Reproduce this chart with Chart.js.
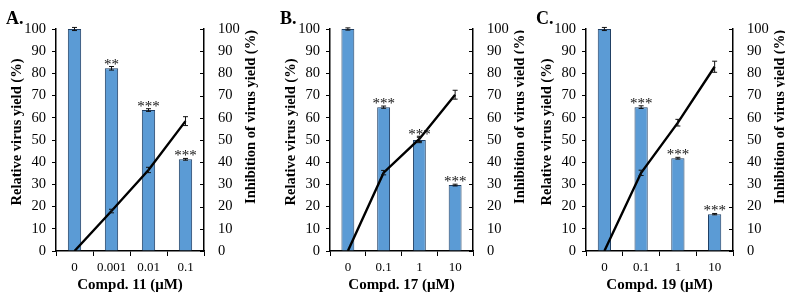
<!DOCTYPE html>
<html>
<head>
<meta charset="utf-8">
<script src="https://cdn.jsdelivr.net/npm/chart.js@4"></script>
<style>
  html, body { margin: 0; padding: 0; background: #fff; }
  #wrap { position: relative; width: 785px; height: 300px; overflow: hidden; background:#fff; }
  canvas { position: absolute; top: 0; }
</style>
</head>
<body>
<div id="wrap">
  <canvas id="cA" width="262" height="300" style="left:0px"></canvas>
  <canvas id="cB" width="262" height="300" style="left:262px"></canvas>
  <canvas id="cC" width="261" height="300" style="left:524px"></canvas>
</div>
<script>
// ---- data ----
const categoriesA = ['0', '0.001', '0.01', '0.1'];
const categoriesB = ['0', '0.1', '1', '10'];
const categoriesC = ['0', '0.1', '1', '10'];

const yieldA = [100, 82.3, 63.5, 41.3];
const yieldErrA = [0.7, 0.8, 0.6, 0.4];
const inhibA = [0, 18, 36.5, 58.5];
const inhibErrA = [0, 0.8, 1.2, 2];
const sigA = ['', '**', '***', '***'];

const yieldB = [100, 64.8, 50, 29.7];
const yieldErrB = [0.5, 0.5, 1.2, 0.4];
const inhibB = [0, 35.3, 50.5, 70.4];
const inhibErrB = [0, 1, 1.2, 2];
const sigB = ['', '***', '***', '***'];

const yieldC = [100, 64.8, 41.8, 16.6];
const yieldErrC = [0.7, 0.6, 0.4, 0.3];
const inhibC = [0, 35.2, 57.8, 83];
const inhibErrC = [0, 1.2, 1.5, 2.5];
const sigC = ['', '***', '***', '***'];

const yTickValues = [0, 10, 20, 30, 40, 50, 60, 70, 80, 90, 100];
const panelLabels = ['A.', 'B.', 'C.'];
const xTitles = ['Compd. 11 (μM)', 'Compd. 17 (μM)', 'Compd. 19 (μM)'];
const leftTitle = 'Relative virus yield (%)';
const rightTitle = 'Inhibition of virus yield (%)';

// ---- styling ----
const FONT = '"Liberation Serif", "Times New Roman", serif';
const BAR_FILL = '#5b9bd5';
const BAR_EDGE = '#1f3e63';

const decorPlugin = {
  id: 'decor',
  afterDatasetsDraw(chart, args, opts) {
    const ctx = chart.ctx;
    const x = chart.scales.x, y = chart.scales.y, y1 = chart.scales.y1;
    ctx.save();
    // error bars
    chart.data.datasets.forEach((ds, di) => {
      const sc = ds.yAxisID === 'y1' ? y1 : y;
      ds.err.forEach((e, i) => {
        if (!e) return;
        const cx = x.getPixelForValue(i);
        const yt = sc.getPixelForValue(ds.data[i] + e);
        const yb = sc.getPixelForValue(ds.data[i] - e);
        ctx.strokeStyle = '#111';
        ctx.lineWidth = 1;
        ctx.beginPath();
        ctx.moveTo(cx, yt); ctx.lineTo(cx, yb);
        ctx.moveTo(cx - 2.5, yt); ctx.lineTo(cx + 2.5, yt);
        ctx.moveTo(cx - 2.5, yb); ctx.lineTo(cx + 2.5, yb);
        ctx.stroke();
      });
    });
    // significance marks
    const bar = chart.data.datasets.find(d => d.type === 'bar');
    ctx.fillStyle = '#111';
    ctx.font = '15px ' + FONT;
    ctx.textAlign = 'center';
    ctx.textBaseline = 'alphabetic';
    opts.sig.forEach((s, i) => {
      if (!s) return;
      const cx = x.getPixelForValue(i);
      const yt = y.getPixelForValue(bar.data[i] + bar.err[i]);
      ctx.fillText(s, cx, yt + 2);
    });
    ctx.restore();
  },
  afterDraw(chart, args, opts) {
    const ctx = chart.ctx;
    const a = chart.chartArea;
    const y1 = chart.scales.y1;
    ctx.save();
    // inward ticks on right axis
    ctx.strokeStyle = '#000';
    ctx.lineWidth = 1;
    ctx.beginPath();
    y1.ticks.forEach(t => {
      const py = Math.round(y1.getPixelForValue(t.value)) + 0.5;
      ctx.moveTo(a.right - 4, py); ctx.lineTo(a.right, py);
    });
    ctx.stroke();
    ctx.fillStyle = '#000';
    // left title
    ctx.font = 'bold 14.5px ' + FONT;
    ctx.textAlign = 'center';
    ctx.textBaseline = 'middle';
    ctx.save();
    ctx.translate(a.left - 39, 132);
    ctx.rotate(-Math.PI / 2);
    ctx.fillText(leftTitle, 0, 0);
    ctx.restore();
    // right title
    ctx.save();
    ctx.translate(a.right + 47, 117);
    ctx.rotate(-Math.PI / 2);
    ctx.fillText(rightTitle, 0, 0);
    ctx.restore();
    // x title
    ctx.font = 'bold 15px ' + FONT;
    ctx.fillText(opts.xTitle, (a.left + a.right) / 2, 285);
    // panel label
    ctx.font = 'bold 18px ' + FONT;
    ctx.textAlign = 'left';
    ctx.textBaseline = 'alphabetic';
    ctx.fillText(opts.label, a.left - 50, 24);
    ctx.restore();
  }
};

function makeChart(id, cats, yv, ye, iv, ie, sig, leftW, rightW, label, xTitle) {
  const canvas = document.getElementById(id);
  return new Chart(canvas, {
    data: {
      labels: cats,
      datasets: [
        {
          type: 'line', data: iv, err: ie, yAxisID: 'y1', order: 0,
          borderColor: '#000', borderWidth: 2.4, pointRadius: 0, tension: 0, fill: false
        },
        {
          type: 'bar', data: yv, err: ye, yAxisID: 'y', order: 1,
          backgroundColor: BAR_FILL, borderColor: BAR_EDGE, borderWidth: 1,
          categoryPercentage: 1, barPercentage: 0.36
        }
      ]
    },
    options: {
      responsive: false,
      animation: false,
      devicePixelRatio: 1,
      layout: { padding: { top: 29, left: 0, right: 0, bottom: 0 } },
      plugins: {
        legend: { display: false },
        tooltip: { enabled: false },
        decor: { sig: sig, label: label, xTitle: xTitle }
      },
      scales: {
        x: {
          type: 'category', offset: true,
          grid: { display: true, drawOnChartArea: false, offset: true, tickLength: 5, color: '#000', lineWidth: 1 },
          border: { display: true, color: '#000', width: 1.5 },
          ticks: { color: '#000', font: { family: FONT, size: 13 }, padding: 4, maxRotation: 0, autoSkip: false },
          afterFit(s) { s.height = 49; }
        },
        y: {
          position: 'left', min: 0, max: 100,
          afterBuildTicks(s) { s.ticks = yTickValues.map(v => ({ value: v })); },
          grid: { display: true, drawOnChartArea: false, tickLength: 4, color: '#000', lineWidth: 1 },
          border: { display: true, color: '#000', width: 1.5 },
          ticks: { color: '#000', font: { family: FONT, size: 14.5 }, padding: 6 },
          afterFit(s) { s.width = leftW; }
        },
        y1: {
          position: 'right', min: 0, max: 100,
          afterBuildTicks(s) { s.ticks = yTickValues.map(v => ({ value: v })); },
          grid: { display: true, drawOnChartArea: false, drawTicks: false, color: '#000' },
          border: { display: true, color: '#000', width: 1.5 },
          ticks: { color: '#000', font: { family: FONT, size: 14.5 }, padding: 14 },
          afterFit(s) { s.width = rightW; }
        }
      }
    },
    plugins: [decorPlugin]
  });
}

makeChart('cA', categoriesA, yieldA, yieldErrA, inhibA, inhibErrA, sigA, 56, 58, panelLabels[0], xTitles[0]);
makeChart('cB', categoriesB, yieldB, yieldErrB, inhibB, inhibErrB, sigB, 68, 51, panelLabels[1], xTitles[1]);
makeChart('cC', categoriesC, yieldC, yieldErrC, inhibC, inhibErrC, sigC, 62, 52, panelLabels[2], xTitles[2]);
</script>
</body>
</html>
